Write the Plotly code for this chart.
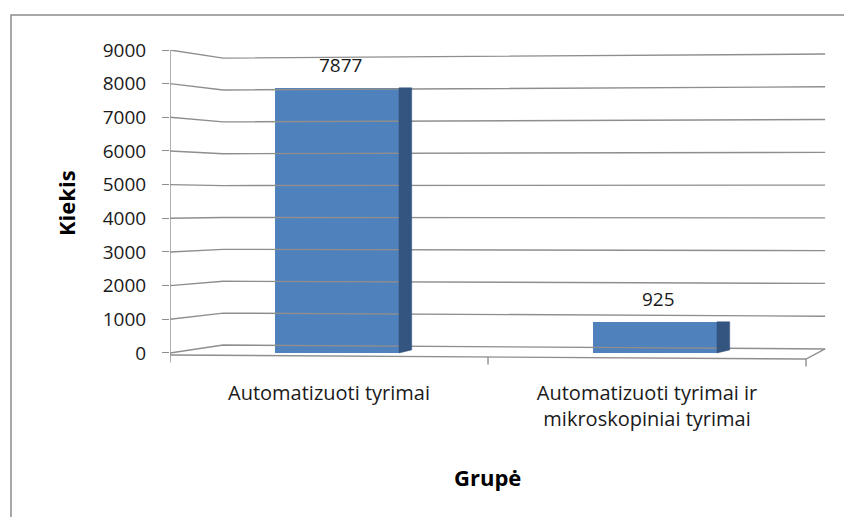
import plotly.graph_objects as go

# ---- data ----
categories = ["Automatizuoti tyrimai", "Automatizuoti tyrimai ir<br>mikroskopiniai tyrimai"]
values = [7877, 925]
y_ticks = [0, 1000, 2000, 3000, 4000, 5000, 6000, 7000, 8000, 9000]
y_title = "Kiekis"
x_title = "Grupė"

W, H = 844, 517
FONT = "Open Sans"
GRID = "#8e8e8e"
FRONT = "#4f81bd"
SIDE = "#34557f"
TXT = "#1a1a1a"

# geometry of the pseudo-3D look (in axis units)
x_pos = list(range(len(categories)))
x_left, x_right = -0.5, len(categories) - 0.5
depth_x = 0.167            # how far the back wall sits to the right
wall_right = 1.56
bar_off, bar_w, side_w = -0.17, 0.39, 0.04


def back_left(t):
    return 237 + 0.947 * t


def back_right(t):
    return 119 + 0.9735 * t


fig = go.Figure()

# back wall gridlines (perspective)
gx, gy = [], []
for t in y_ticks:
    gx += [x_left, x_left + depth_x, wall_right, None]
    gy += [t, back_left(t), back_right(t), None]
fig.add_trace(go.Scatter(x=gx, y=gy, mode="lines", line=dict(color=GRID, width=1.4),
                         hoverinfo="skip", showlegend=False))

# floor front edge + right edge, y-axis line, x-ticks
floor_front_l, floor_front_r = -60, -180
fx = [x_left, x_right, wall_right]
fy = [floor_front_l, floor_front_r, back_right(0)]
fig.add_trace(go.Scatter(x=fx, y=fy, mode="lines", line=dict(color=GRID, width=1.4),
                         hoverinfo="skip", showlegend=False))
fig.add_trace(go.Scatter(x=[x_left, x_left], y=[floor_front_l, y_ticks[-1]], mode="lines",
                         line=dict(color=GRID, width=1.4), hoverinfo="skip", showlegend=False))
tx, ty = [], []
bounds = [x_left + i for i in range(len(categories) + 1)]
for b in bounds:
    f = floor_front_l + (floor_front_r - floor_front_l) * (b - x_left) / (x_right - x_left)
    tx += [b, b, None]
    ty += [f, f - 220, None]
fig.add_trace(go.Scatter(x=tx, y=ty, mode="lines", line=dict(color=GRID, width=1.4),
                         hoverinfo="skip", showlegend=False))

# bars (front faces)
fig.add_trace(go.Bar(x=x_pos, y=values, width=bar_w, offset=bar_off,
                     marker=dict(color=FRONT, line=dict(width=0)),
                     showlegend=False, hoverinfo="x+y"))

# side faces
for xi, v in zip(x_pos, values):
    x0 = xi + bar_off + bar_w
    x1 = x0 + side_w
    fig.add_trace(go.Scatter(x=[x0, x1, x1, x0, x0], y=[0, 90, v, v, 0], mode="lines",
                             fill="toself", fillcolor=SIDE, line=dict(color=SIDE, width=0.5),
                             hoverinfo="skip", showlegend=False))

# value labels
for xi, v in zip(x_pos, values):
    fig.add_annotation(x=xi + bar_off + bar_w / 2 + 0.01, y=v, text=str(v),
                       showarrow=False, yshift=23, yanchor="middle", xanchor="center",
                       font=dict(family=FONT, size=19, color=TXT))

# axis titles
fig.add_annotation(x=66 / W, y=(H - 203) / H, xref="paper", yref="paper", text=f"<b>{y_title}</b>",
                   textangle=-90, showarrow=False, xanchor="center", yanchor="middle",
                   font=dict(family=FONT, size=22, color="#000"))
fig.add_annotation(x=487 / W, y=(H - 477) / H, xref="paper", yref="paper", text=f"<b>{x_title}</b>",
                   showarrow=False, xanchor="center", yanchor="middle",
                   font=dict(family=FONT, size=22, color="#000"))

# outer frame
fig.add_shape(type="rect", xref="paper", yref="paper", x0=11 / W, x1=1.2, y0=-0.2, y1=(H - 15) / H,
              line=dict(color="#8c8c8c", width=1.5), fillcolor="rgba(0,0,0,0)", layer="below")

fig.update_layout(
    width=W, height=H, margin=dict(l=0, r=0, t=0, b=0, pad=0, autoexpand=False),
    paper_bgcolor="white", plot_bgcolor="white",
    font=dict(family=FONT, size=19, color=TXT),
    bargap=0,
    xaxis=dict(domain=[170 / W, 826.7 / W], range=[x_left, 1.565], showgrid=False, zeroline=False,
               showline=False, tickvals=x_pos, ticktext=categories, ticks="", automargin=False,
               ticklabelstandoff=12, tickfont=dict(family=FONT, size=20, color=TXT)),
    yaxis=dict(domain=[(H - 367.1) / H, (H - 50) / H], range=[-420, 9000], showgrid=False,
               zeroline=False, showline=False, tickvals=y_ticks, ticks="outside", ticklen=7,
               tickcolor=GRID, tickwidth=1.4, ticklabelstandoff=12, automargin=False,
               tickfont=dict(family=FONT, size=19, color=TXT)),
)

fig.write_html("out.html", config={"displayModeBar": False},
               post_script="document.body.style.margin='0px';")
